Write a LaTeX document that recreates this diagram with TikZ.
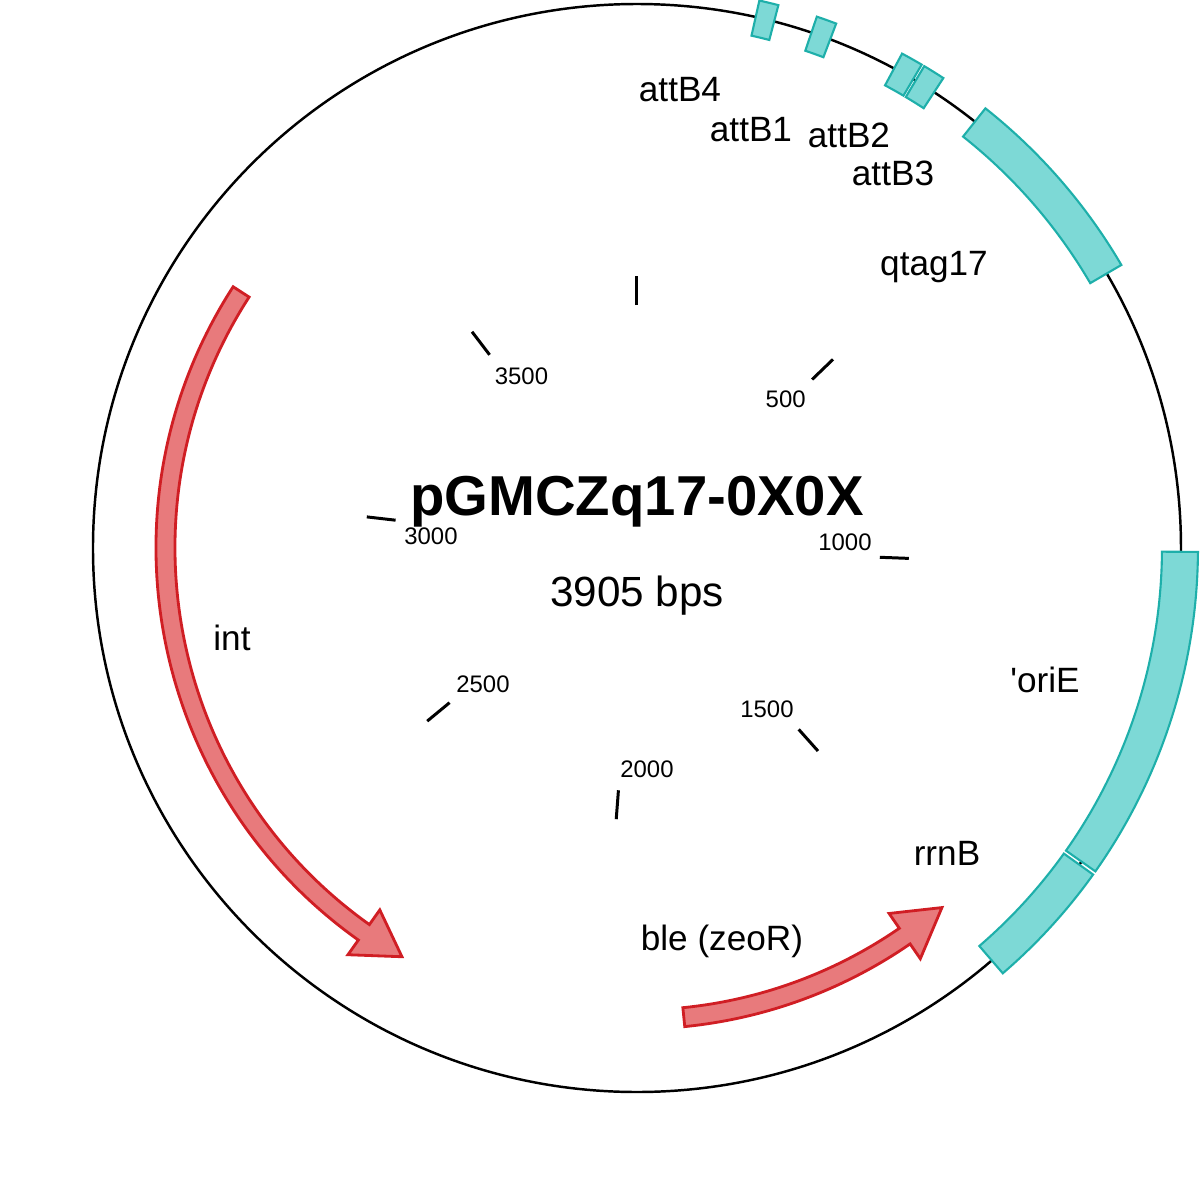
\documentclass[tikz,border=0pt]{standalone}
\usepackage{fontspec}
\setmainfont{Liberation Sans}
\definecolor{featfill}{RGB}{125,217,214}
\definecolor{featline}{RGB}{30,175,170}
\definecolor{genefill}{RGB}{232,122,124}
\definecolor{geneline}{RGB}{208,30,36}
\tikzset{
	feat/.style={fill=featfill, draw=featline, line width=0.6pt},
	gene/.style={fill=genefill, draw=geneline, line width=0.8pt},
	ticmark/.style={line width=0.85pt},
	lab/.style={font=\fontsize{10}{12}\selectfont},
	num/.style={font=\fontsize{6.8}{8}\selectfont},
}
\begin{document}
\begin{tikzpicture}[x=0.01cm, y=0.01cm]
	\useasboundingbox (-637,-654) rectangle (563,548);
	\coordinate (c) at (0,0);
	\draw[line width=0.7pt] (c) circle[radius=544];
	
	% features
	\draw[feat] (77.4:525) arc[start angle=77.4, end angle=75.4, radius=525] -- (75.4:561) arc[start angle=75.4, end angle=77.4, radius=561] -- cycle;
	\draw[feat] (71.3:525) arc[start angle=71.3, end angle=69.2, radius=525] -- (69.2:561) arc[start angle=69.2, end angle=71.3, radius=561] -- cycle;
	\draw[feat] (61.8:525) arc[start angle=61.8, end angle=59.5, radius=525] -- (59.5:561) arc[start angle=59.5, end angle=61.8, radius=561] -- cycle;
	\draw[feat] (59.2:525) arc[start angle=59.2, end angle=56.9, radius=525] -- (56.9:561) arc[start angle=56.9, end angle=59.2, radius=561] -- cycle;
	\draw[feat] (51.6:525) arc[start angle=51.6, end angle=30.3, radius=525] -- (30.3:561) arc[start angle=30.3, end angle=51.6, radius=561] -- cycle;
	\draw[feat] (-0.4:525) arc[start angle=-0.4, end angle=-35.2, radius=525] -- (-35.2:561) arc[start angle=-35.2, end angle=-0.4, radius=561] -- cycle;
	\draw[feat] (-35.6:525) arc[start angle=-35.6, end angle=-49.3, radius=525] -- (-49.3:561) arc[start angle=-49.3, end angle=-35.6, radius=561] -- cycle;
	
	% genes
	\draw[gene] (147.1:481) arc[start angle=147.1, end angle=234.6, radius=481] -- (234.6:499) -- (240.1:471.5) -- (234.6:444) -- (234.6:462) arc[start angle=234.6, end angle=147.1, radius=462] -- cycle;
	\draw[gene] (-84.3:481) arc[start angle=-84.3, end angle=-55.4, radius=481] -- (-55.4:499) -- (-49.7:471.5) -- (-55.4:444) -- (-55.4:462) arc[start angle=-55.4, end angle=-84.3, radius=462] -- cycle;
	
	% ticks
	\draw[ticmark] (90:243) -- (90:272);
	\draw[ticmark] (43.9:243) -- (43.9:272);
	\draw[ticmark] (-2.19:243) -- (-2.19:272);
	\draw[ticmark] (-48.28:243) -- (-48.28:272);
	\draw[ticmark] (-94.38:243) -- (-94.38:272);
	\draw[ticmark] (-140.47:243) -- (-140.47:272);
	\draw[ticmark] (173.43:243) -- (173.43:272);
	\draw[ticmark] (127.34:243) -- (127.34:272);
	\node[num] at (148.7,148.5) (t500) {500};
	\node[num] at (208,6) (t1000) {1000};
	\node[num] at (130,-161) (t1500) {1500};
	\node[num] at (10,-221) (t2000) {2000};
	\node[num] at (-154,-136) (t2500) {2500};
	\node[num] at (-206,12) (t3000) {3000};
	\node[num] at (-115.5,172) (t3500) {3500};
	
	% labels
	\node[lab] at (43,458) (attB4) {attB4};
	\node[lab] at (114,418) (attB1) {attB1};
	\node[lab] at (212,413) (attB2) {attB2};
	\node[lab] at (256,375) (attB3) {attB3};
	\node[lab, anchor=base] at (297,273) (qtag) {qtag17};
	\node[lab] at (408,-132) (oriE) {\textquotesingle oriE};
	\node[lab] at (310,-305) (rrnB) {rrnB};
	\node[lab, anchor=base] at (85,-402) (ble) {ble (zeoR)};
	\node[lab] at (-405,-90) (int) {int};
	
	\node[anchor=base, font=\fontsize{16}{19}\selectfont\bfseries] at (0,33) (name) {pGMCZq17-0X0X};
	\node[anchor=base, font=\fontsize{12}{14}\selectfont] at (0,-58) (size) {3905 bps};
\end{tikzpicture}
\end{document}
